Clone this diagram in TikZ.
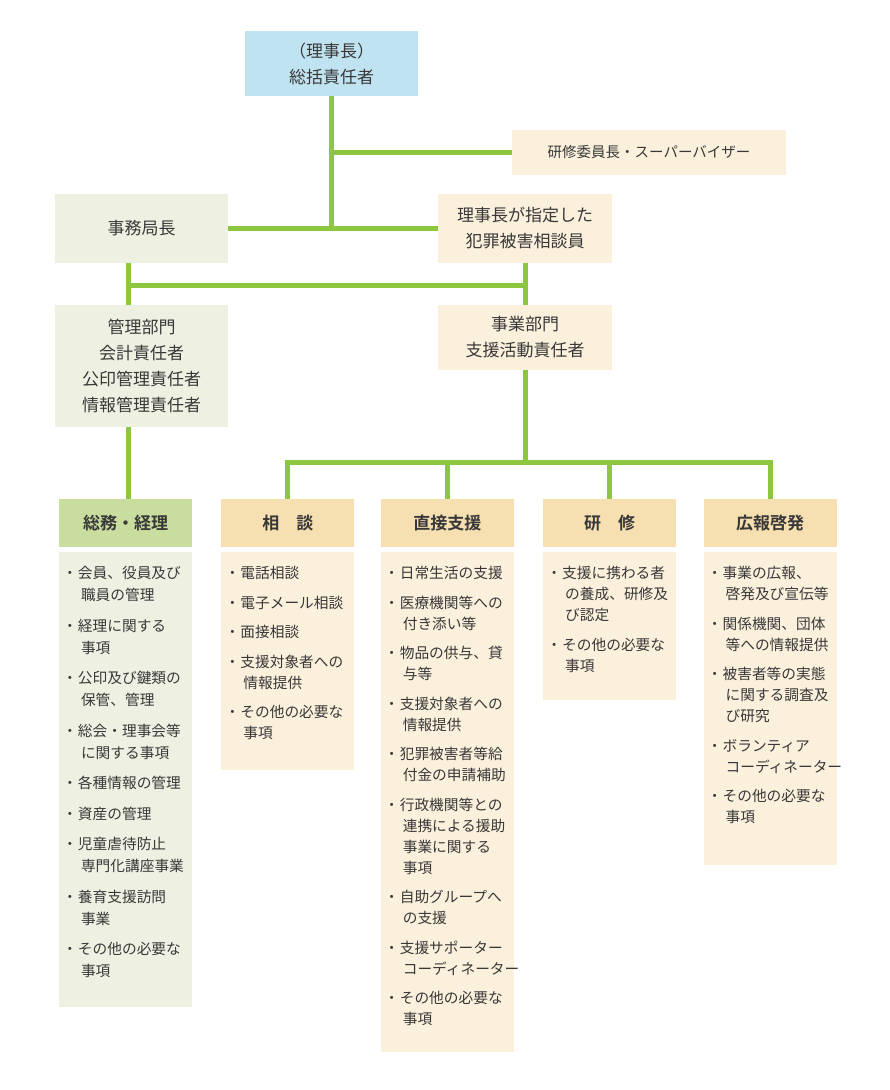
\documentclass[tikz,border=0pt]{standalone}
\usepackage{fontspec}
\setmainfont{Noto Sans CJK JP}[BoldFont={Noto Sans CJK JP Bold}]
\usetikzlibrary{positioning}

\definecolor{topblue}{HTML}{C0E3F1}
\definecolor{linegreen}{HTML}{8DC63F}
\definecolor{leftbg}{HTML}{EEF1E2}
\definecolor{lefthdr}{HTML}{C9DE9E}
\definecolor{beige}{HTML}{FAF0DC}
\definecolor{beigehdr}{HTML}{F6DFB0}
\definecolor{txt}{HTML}{383838}

% bullet, continuation indent and item gap for the task lists
\newcommand{\bt}{\makebox[16pt][c]{・}}
\newcommand{\nx}{\hspace*{19pt}}
\newcommand{\sep}{\\[8.5pt]}

\begin{document}
\begin{tikzpicture}[x=1pt, y=-1pt,
    box/.style={fill=#1, minimum width=173pt, inner sep=0pt, align=center, text=txt, font=\fontsize{17}{26}\selectfont},
    hdr/.style={fill=#1, minimum width=133pt, minimum height=48pt, inner sep=0pt, text=txt, font=\fontsize{17}{20}\selectfont\bfseries},
    panel/.style={fill=#1, minimum width=133pt, inner sep=0pt},
    items/.style={anchor=north west, inner sep=0pt, align=left, text=txt, font=\fontsize{14.7}{#1}\selectfont},
    items/.default=21,
    link/.style={draw=linegreen, line width=5pt}]
    \useasboundingbox (0,0) rectangle (890,1090);

    % top level
    \node[box=topblue, minimum height=65pt] (chief) at (331.5,63.5) {（理事長）\\総括責任者};
    \node[box=beige, minimum width=274pt, minimum height=45pt, font=\fontsize{14.5}{20}\selectfont] (super) at (649,152.5) {研修委員長・スーパーバイザー};
    \node[box=leftbg, minimum height=69pt] (jimu) at (141.5,228) {事務局長};
    \node[box=beige, minimum width=174pt, minimum height=69pt] (soudanin) at (525,228) {理事長が指定した\\犯罪被害相談員};

    \node[box=leftbg, minimum height=122pt] (kanri) at (141.5,366) {管理部門\\会計責任者\\公印管理責任者\\情報管理責任者};
    \node[box=beige, minimum width=174pt, minimum height=65pt] (jigyo) at (525,337.5) {事業部門\\支援活動責任者};

    % section headers
    \node[hdr=lefthdr] (soumu) at (125.5,523) {総務・経理};
    \node[hdr=beigehdr, right=29pt of soumu] (soudan) {相　談};
    \node[hdr=beigehdr, right=26pt of soudan] (chokusetsu) {直接支援};
    \node[hdr=beigehdr, right=29pt of chokusetsu] (kenshu) {研　修};
    \node[hdr=beigehdr, right=27pt of kenshu] (kouhou) {広報啓発};

    % task panels
    \node[panel=leftbg, minimum height=455pt, below=5pt of soumu] (soumuP) {};
    \node[panel=beige, minimum height=218pt, below=5pt of soudan] (soudanP) {};
    \node[panel=beige, minimum height=500pt, below=5pt of chokusetsu] (chokusetsuP) {};
    \node[panel=beige, minimum height=148pt, below=5pt of kenshu] (kenshuP) {};
    \node[panel=beige, minimum height=313pt, below=5pt of kouhou] (kouhouP) {};

    \node[items=22] (soumuT) at ([xshift=3pt,yshift=-14pt]soumuP.north west) {%
        \bt 会員、役員及び\\\nx 職員の管理\sep
        \bt 経理に関する\\\nx 事項\sep
        \bt 公印及び鍵類の\\\nx 保管、管理\sep
        \bt 総会・理事会等\\\nx に関する事項\sep
        \bt 各種情報の管理\sep
        \bt 資産の管理\sep
        \bt 児童虐待防止\\\nx 専門化講座事業\sep
        \bt 養育支援訪問\\\nx 事業\sep
        \bt その他の必要な\\\nx 事項};
    \node[items] (soudanT) at ([xshift=3pt,yshift=-14pt]soudanP.north west) {%
        \bt 電話相談\sep
        \bt 電子メール相談\sep
        \bt 面接相談\sep
        \bt 支援対象者への\\\nx 情報提供\sep
        \bt その他の必要な\\\nx 事項};
    \node[items] (chokusetsuT) at ([xshift=3pt,yshift=-14pt]chokusetsuP.north west) {%
        \bt 日常生活の支援\sep
        \bt 医療機関等への\\\nx 付き添い等\sep
        \bt 物品の供与、貸\\\nx 与等\sep
        \bt 支援対象者への\\\nx 情報提供\sep
        \bt 犯罪被害者等給\\\nx 付金の申請補助\sep
        \bt 行政機関等との\\\nx 連携による援助\\\nx 事業に関する\\\nx 事項\sep
        \bt 自助グループへ\\\nx の支援\sep
        \bt 支援サポーター\\\nx コーディネーター\sep
        \bt その他の必要な\\\nx 事項};
    \node[items] (kenshuT) at ([xshift=3pt,yshift=-14pt]kenshuP.north west) {%
        \bt 支援に携わる者\\\nx の養成、研修及\\\nx び認定\sep
        \bt その他の必要な\\\nx 事項};
    \node[items] (kouhouT) at ([xshift=3pt,yshift=-14pt]kouhouP.north west) {%
        \bt 事業の広報、\\\nx 啓発及び宣伝等\sep
        \bt 関係機関、団体\\\nx 等への情報提供\sep
        \bt 被害者等の実態\\\nx に関する調査及\\\nx び研究\sep
        \bt ボランティア\\\nx コーディネーター\sep
        \bt その他の必要な\\\nx 事項};

    % connectors
    \coordinate (lv) at (128,285);
    \coordinate (y3) at (0,462);
    \draw[link] (chief) -- (chief |- jimu);
    \draw[link] (chief |- super) -- (super);
    \draw[link] (jimu) -- (soudanin);
    \draw[link] (lv |- jimu.south) -- (lv |- kanri.north);
    \draw[link] (soudanin) -- (jigyo);
    \draw[link] (lv) -- (lv -| jigyo);
    \draw[link] (lv |- kanri.south) -- (lv |- soumu.north);
    \draw[link] (jigyo) -- (jigyo.south |- y3);
    \draw[link] (soudan.north) |- (y3 -| kouhou.north) -- (kouhou.north);
    \draw[link] (chokusetsu.north) -- (chokusetsu.north |- y3);
    \draw[link] (kenshu.north) -- (kenshu.north |- y3);
\end{tikzpicture}
\end{document}
